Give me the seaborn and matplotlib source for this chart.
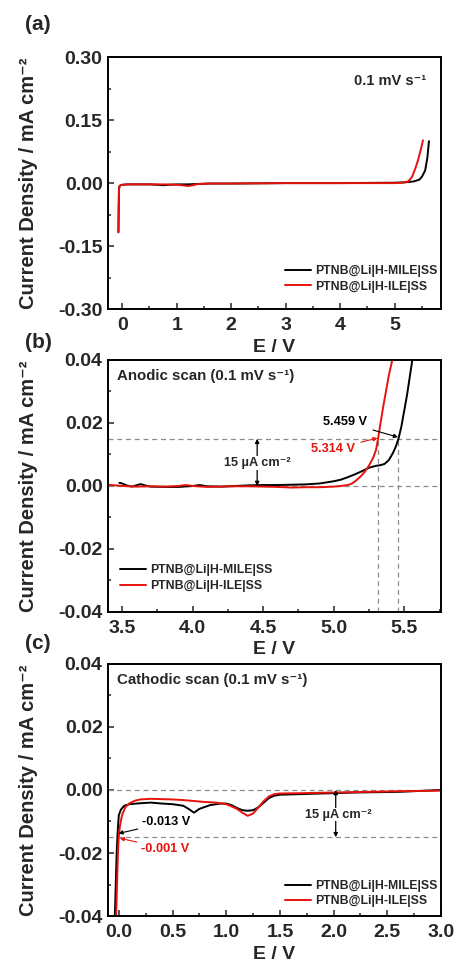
import seaborn as sns
from matplotlib import pyplot as plt
from matplotlib.ticker import MultipleLocator

# (a) full LSV
a_black_E = [-0.07, -0.065, -0.06, -0.05, -0.03, 0.0, 0.1, 0.3, 0.5, 0.65, 0.75, 0.85, 1.0, 1.2, 1.4, 1.6, 2.0, 3.0, 4.0, 5.0, 5.2, 5.35, 5.45, 5.5, 5.56, 5.6, 5.63]
a_black_j = [-0.117, -0.06, -0.015, -0.007, -0.005, -0.004, -0.003, -0.003, -0.003, -0.004, -0.005, -0.004, -0.003, -0.003, -0.002, -0.001, -0.001, 0.0, 0.0, 0.001, 0.002, 0.004, 0.008, 0.015, 0.03, 0.06, 0.1]
a_red_E = [-0.07, -0.065, -0.06, -0.05, -0.03, 0.0, 0.1, 0.3, 0.5, 0.8, 1.0, 1.1, 1.2, 1.3, 1.4, 1.6, 2.0, 3.0, 4.0, 5.0, 5.15, 5.25, 5.32, 5.38, 5.43, 5.48, 5.52]
a_red_j = [-0.117, -0.06, -0.015, -0.007, -0.005, -0.004, -0.003, -0.003, -0.003, -0.003, -0.004, -0.005, -0.007, -0.005, -0.002, -0.001, -0.001, 0.0, 0.0, 0.0, 0.001, 0.004, 0.015, 0.035, 0.055, 0.08, 0.102]

# (b) anodic scan
b_black_E = [3.48, 3.5, 3.53, 3.57, 3.6, 3.63, 3.66, 3.7, 3.8, 3.9, 4.0, 4.05, 4.1, 4.2, 4.3, 4.4, 4.5, 4.6, 4.7, 4.8, 4.9, 5.0, 5.05, 5.1, 5.15, 5.2, 5.25, 5.3, 5.33, 5.36, 5.39, 5.42, 5.44, 5.459, 5.48, 5.5, 5.52, 5.54, 5.557]
b_black_j = [0.001, 0.0008, 0.0002, -0.0002, 0.0002, 0.0006, 0.0002, -0.0002, -0.0003, -0.0003, 0.0, 0.0003, -0.0001, -0.0002, 0.0, 0.0002, 0.0003, 0.0003, 0.0004, 0.0005, 0.0008, 0.0015, 0.002, 0.0028, 0.0037, 0.0047, 0.0058, 0.0064, 0.0066, 0.007, 0.0082, 0.0105, 0.0125, 0.015, 0.019, 0.024, 0.029, 0.035, 0.04]
b_red_E = [3.4, 3.5, 3.6, 3.7, 3.8, 3.9, 3.95, 4.0, 4.1, 4.2, 4.3, 4.4, 4.5, 4.6, 4.7, 4.8, 4.9, 5.0, 5.05, 5.1, 5.13, 5.16, 5.19, 5.22, 5.25, 5.28, 5.3, 5.314, 5.33, 5.35, 5.37, 5.39, 5.415]
b_red_j = [0.0004, 0.0, -0.0002, -0.0001, -0.0002, 0.0, 0.0003, 0.0, -0.0003, -0.0002, -0.0001, -0.0001, -0.0002, -0.0003, -0.0005, -0.0004, -0.0004, -0.0002, 0.0, 0.0003, 0.0008, 0.0018, 0.003, 0.0045, 0.0065, 0.009, 0.0115, 0.015, 0.0195, 0.025, 0.03, 0.035, 0.04]

# (c) cathodic scan
c_black_E = [-0.037, -0.03, -0.022, -0.016, -0.013, -0.008, 0.0, 0.02, 0.05, 0.1, 0.2, 0.3, 0.4, 0.5, 0.6, 0.65, 0.7, 0.75, 0.85, 0.95, 1.0, 1.05, 1.1, 1.15, 1.2, 1.25, 1.3, 1.35, 1.4, 1.45, 1.5, 1.6, 1.8, 2.0, 2.2, 2.4, 2.6, 2.8, 3.0]
c_black_j = [-0.04, -0.032, -0.022, -0.017, -0.015, -0.012, -0.008, -0.0062, -0.005, -0.0045, -0.0042, -0.004, -0.0043, -0.0045, -0.005, -0.006, -0.0072, -0.006, -0.0048, -0.0043, -0.0043, -0.0048, -0.0057, -0.0064, -0.0066, -0.0064, -0.0055, -0.004, -0.0025, -0.0018, -0.0015, -0.0014, -0.0012, -0.001, -0.0008, -0.0007, -0.0006, -0.0003, 0.0]
c_red_E = [-0.025, -0.015, -0.008, -0.001, 0.01, 0.03, 0.06, 0.1, 0.15, 0.2, 0.3, 0.4, 0.5, 0.6, 0.7, 0.8, 0.9, 1.0, 1.05, 1.1, 1.15, 1.2, 1.25, 1.3, 1.35, 1.4, 1.45, 1.5, 1.7, 2.0, 2.3, 2.6, 3.0]
c_red_j = [-0.04, -0.028, -0.02, -0.015, -0.0115, -0.008, -0.0055, -0.0042, -0.0034, -0.003, -0.0028, -0.0029, -0.003, -0.0032, -0.0035, -0.0038, -0.004, -0.0045, -0.0052, -0.006, -0.0072, -0.0082, -0.0075, -0.0055, -0.0035, -0.002, -0.0013, -0.0011, -0.001, -0.0008, -0.0006, -0.0004, -0.0002]

labels = ['PTNB@Li|H-MILE|SS', 'PTNB@Li|H-ILE|SS']
onset_b = [5.459, 5.314]
onset_c = [-0.013, -0.001]

RED = '#e8120c'

sns.set_style('ticks')
plt.rcParams['font.family'] = ['Liberation Sans', 'DejaVu Sans']
plt.rcParams['font.weight'] = 'bold'
plt.rcParams['axes.labelweight'] = 'bold'
plt.rcParams['axes.linewidth'] = 1.4

fig = plt.figure(figsize=(4.56, 9.63), dpi=100)
L, W, H = 0.237, 0.730, 0.2617
ax_a = fig.add_axes([L, 0.679, W, H])
ax_b = fig.add_axes([L, 0.3645, W, H])
ax_c = fig.add_axes([L, 0.0488, W, H])


def style(ax, xmaj, ymaj, xlim, ylim):
    ax.set_xlim(*xlim)
    ax.set_ylim(*ylim)
    ax.xaxis.set_major_locator(MultipleLocator(xmaj))
    ax.xaxis.set_minor_locator(MultipleLocator(xmaj / 2))
    ax.yaxis.set_major_locator(MultipleLocator(ymaj))
    ax.yaxis.set_minor_locator(MultipleLocator(ymaj / 2))
    ax.yaxis.set_major_formatter(plt.FormatStrFormatter('%.2f'))
    ax.tick_params(which='both', direction='in', top=False, right=False,
                   labelsize=14, width=1.1, pad=4)
    ax.tick_params(axis='x', which='major', pad=5.5)
    ax.tick_params(which='major', length=4.5)
    ax.tick_params(which='minor', length=2.5)
    for s in ax.spines.values():
        s.set_visible(True)
        s.set_color('black')
    ax.set_xlabel('E / V', fontsize=14, labelpad=3.5)
    ax.set_ylabel('Current Density / mA cm⁻²', fontsize=14.5, labelpad=2)
    ax.yaxis.set_label_coords(-0.21, 0.5)


def legend(ax, loc, anchor):
    ax.legend(loc=loc, bbox_to_anchor=anchor, frameon=False, prop=dict(size=8.8, weight='bold'),
              handlelength=2.1, handletextpad=0.35, borderaxespad=0.3, labelspacing=0.3)


lw = 1.4
arr = dict(arrowstyle='<|-|>', color='black', lw=0.9, mutation_scale=6, shrinkA=0, shrinkB=0)

# panel (a)
sns.lineplot(x=a_black_E, y=a_black_j, ax=ax_a, color='black', lw=lw, sort=False, estimator=None, label=labels[0])
sns.lineplot(x=a_red_E, y=a_red_j, ax=ax_a, color=RED, lw=lw, sort=False, estimator=None, label=labels[1])
style(ax_a, 1, 0.15, (-0.26, 5.85), (-0.30, 0.30))
legend(ax_a, 'lower right', (1.015, 0.032))
ax_a.text(0.955, 0.905, '0.1 mV s⁻¹', transform=ax_a.transAxes,
          ha='right', va='center', fontsize=10.5, fontweight='bold')

# panel (b)
gray = dict(color='#8c8c8c', ls=(0, (4, 3)), lw=0.9, zorder=1)
ax_b.axhline(0.015, **gray)
ax_b.axhline(0.0, **gray)
for e in onset_b:
    ax_b.plot([e, e], [-0.04, 0.015], **gray)
sns.lineplot(x=b_black_E, y=b_black_j, ax=ax_b, color='black', lw=lw, sort=False, estimator=None, label=labels[0])
sns.lineplot(x=b_red_E, y=b_red_j, ax=ax_b, color=RED, lw=lw, sort=False, estimator=None, label=labels[1])
style(ax_b, 0.5, 0.02, (3.4, 5.76), (-0.04, 0.04))
legend(ax_b, 'lower left', (0.01, 0.045))
ax_b.text(0.027, 0.935, 'Anodic scan (0.1 mV s⁻¹)', transform=ax_b.transAxes,
          ha='left', va='center', fontsize=10.8, fontweight='bold')
ax_b.annotate('', xy=(4.457, 0.0), xytext=(4.457, 0.015), arrowprops=arr)
ax_b.text(4.457, 0.0073, '15 µA cm⁻²', ha='center', va='center', fontsize=9.2,
          fontweight='bold', bbox=dict(fc='white', ec='none', pad=0.5))
ax_b.annotate('5.459 V', xy=(5.455, 0.0155), xytext=(5.235, 0.0203),
              ha='right', va='center', fontsize=9.2, fontweight='bold', color='black',
              arrowprops=dict(arrowstyle='-|>', color='black', lw=0.8, mutation_scale=6, shrinkA=2, shrinkB=0))
ax_b.annotate('5.314 V', xy=(5.31, 0.0152), xytext=(5.15, 0.0117),
              ha='right', va='center', fontsize=9.2, fontweight='bold', color=RED,
              arrowprops=dict(arrowstyle='-|>', color=RED, lw=0.8, mutation_scale=6, shrinkA=2, shrinkB=0))

# panel (c)
ax_c.axhline(0.0, **gray)
ax_c.axhline(-0.015, **gray)
sns.lineplot(x=c_black_E, y=c_black_j, ax=ax_c, color='black', lw=lw, sort=False, estimator=None, label=labels[0])
sns.lineplot(x=c_red_E, y=c_red_j, ax=ax_c, color=RED, lw=lw, sort=False, estimator=None, label=labels[1])
style(ax_c, 0.5, 0.02, (-0.1, 3.0), (-0.04, 0.04))
legend(ax_c, 'lower right', (1.015, 0.0))
ax_c.text(0.027, 0.935, 'Cathodic scan (0.1 mV s⁻¹)', transform=ax_c.transAxes,
          ha='left', va='center', fontsize=10.8, fontweight='bold')
ax_c.annotate('', xy=(2.02, 0.0), xytext=(2.02, -0.015), arrowprops=arr)
ax_c.text(2.04, -0.0078, '15 µA cm⁻²', ha='center', va='center', fontsize=9.2,
          fontweight='bold', bbox=dict(fc='white', ec='none', pad=0.5))
ax_c.annotate('-0.013 V', xy=(onset_c[0] + 0.01, -0.0138), xytext=(0.22, -0.0103),
              ha='left', va='center', fontsize=9.2, fontweight='bold', color='black',
              arrowprops=dict(arrowstyle='-|>', color='black', lw=0.8, mutation_scale=6, shrinkA=1, shrinkB=0))
ax_c.annotate('-0.001 V', xy=(onset_c[1] + 0.01, -0.0153), xytext=(0.21, -0.0186),
              ha='left', va='center', fontsize=9.2, fontweight='bold', color=RED,
              arrowprops=dict(arrowstyle='-|>', color=RED, lw=0.8, mutation_scale=6, shrinkA=1, shrinkB=0))

for lab, y in zip(['(a)', '(b)', '(c)'], [25, 342, 643]):
    fig.text(38 / 456, 1 - y / 963, lab, ha='center', va='center', fontsize=15, fontweight='bold')

fig.savefig('out.png', dpi=100)
plt.close(fig)
